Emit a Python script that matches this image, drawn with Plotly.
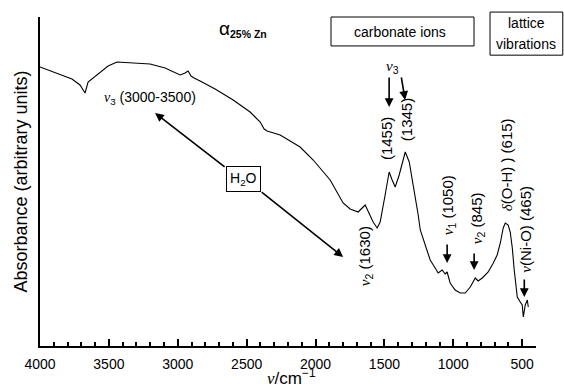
import plotly.graph_objects as go

# IR spectrum (wavenumber in cm-1, absorbance arbitrary units)
wavenumber = [4000, 3884, 3768, 3710, 3673, 3651, 3615, 3564, 3506, 3441, 3346, 3201,
              3092, 2983, 2947, 2925, 2904, 2882, 2838, 2729, 2598, 2475, 2402, 2373,
              2352, 2257, 2112, 2017, 1894, 1800, 1749, 1691, 1640, 1618, 1582, 1553,
              1531, 1495, 1466, 1444, 1422, 1393, 1349, 1320, 1291, 1255, 1240, 1204,
              1168, 1132, 1110, 1081, 1059, 1045, 1023, 987, 950, 914, 877, 841, 820,
              790, 747, 710, 682, 659, 638, 623, 602, 587, 572, 558, 536, 514, 500,
              492, 478, 463, 456]
absorbance = [279, 273, 267, 261, 253, 264, 268, 274, 280, 284, 283, 282,
              278, 271, 273, 275, 270, 268, 265, 257, 246, 234, 224, 217,
              215, 211, 199, 186, 166, 143, 137, 134, 141, 134, 124, 118,
              124, 151, 174, 166, 159, 171, 194, 184, 161, 131, 116, 101,
              86, 78, 73, 76, 72, 74, 63, 56, 53, 53, 59, 68, 65,
              68, 74, 83, 91, 103, 118, 123, 121, 114, 98, 76, 49, 44, 41,
              29, 41, 46, 39]

x_range = [4000, 400]
y_range = [0, 329]
x_tick_step = 500
x_minor_step = 100

FONT = "Liberation Sans, Arial, sans-serif"
NU = "<span style='font-family:Liberation Serif'><i>ν</i></span>"

fig = go.Figure()
fig.add_trace(go.Scatter(x=wavenumber, y=absorbance, mode="lines",
                         line=dict(color="black", width=1.1), showlegend=False,
                         hoverinfo="skip"))

ann = []

def txt(x, y, text, size=14, angle=0, xref="x", yref="y", **kw):
    d = dict(x=x, y=y, text=text, showarrow=False, textangle=angle,
             xanchor="center", yanchor="middle",
             font=dict(family=FONT, size=size, color="black"), xref=xref, yref=yref)
    d.update(kw)
    ann.append(d)

def arrow(x, y, ax, ay, width=1.6):
    ann.append(dict(x=x, y=y, ax=ax, ay=ay, xref="x", yref="y", axref="x", ayref="y",
                    text="", showarrow=True, arrowhead=2, arrowsize=1.1,
                    arrowwidth=width, arrowcolor="black"))

# title-like label
txt(2715, 317, "<span style='font-size:19px'>α</span><sub><b>25% Zn</b></sub>",
    size=15, xanchor="left")

# x-axis title (placed below the tick labels)
txt(0.508, -0.094, NU + "/cm<sup>−1</sup>", size=17, xref="paper", yref="paper")

# box labels
txt(0.7258, 0.953, "carbonate ions", size=14, xref="paper", yref="paper")
txt(0.9805, 0.982, "lattice", size=14, xref="paper", yref="paper")
txt(0.9805, 0.918, "vibrations", size=14, xref="paper", yref="paper")

# nu3 carbonate
txt(1444, 279, NU + "<sub>3</sub>", size=15)
arrow(1466, 239, 1466, 270)
arrow(1350, 246, 1379, 270)
txt(1488, 207, "(1455)", size=15, angle=-90)
txt(1342, 226, "(1345)", size=15, angle=-90)

txt(1640, 90, NU + "<sub>2</sub> (1630)", size=15, angle=-90)
txt(1037, 141, NU + "<sub>1</sub> (1050)", size=15, angle=-90)
arrow(1045, 83, 1045, 103)
txt(827, 128, NU + "<sub>2</sub> (845)", size=15, angle=-90)
arrow(849, 76, 849, 94)
txt(616, 181, "<span style='font-family:Liberation Serif'><i>δ</i></span>(O-H) ) (615)",
    size=15, angle=-90)
txt(482, 117, NU + "(Ni-O) (465)", size=15, angle=-90)
arrow(485, 49, 485, 68)

# water
txt(3201, 248, NU + "<sub>3</sub> (3000-3500)", size=14)
arrow(3165, 233, 2649, 178)
arrow(1800, 89, 2402, 155)
ann.append(dict(x=2526, y=167, xref="x", yref="y", text="H<sub>2</sub>O", showarrow=False,
                font=dict(family=FONT, size=14, color="black"), bordercolor="black",
                borderwidth=1, borderpad=3, bgcolor="white"))

shapes = [
    dict(type="rect", xref="paper", yref="paper", x0=0.5867, x1=0.875, y0=0.912, y1=1.0,
         line=dict(color="black", width=1)),
    dict(type="rect", xref="paper", yref="paper", x0=0.9073, x1=1.054, y0=0.884, y1=1.015,
         line=dict(color="black", width=1)),
]

fig.update_layout(
    width=564, height=388,
    margin=dict(l=40, r=28, t=17, b=42, autoexpand=False),
    paper_bgcolor="white", plot_bgcolor="white",
    font=dict(family=FONT, color="black"),
    annotations=ann, shapes=shapes,
    xaxis=dict(range=x_range, tickmode="linear", tick0=0, dtick=x_tick_step,
               ticks="inside", ticklen=7, tickwidth=2, tickcolor="black",
               minor=dict(tickmode="linear", tick0=0, dtick=x_minor_step, ticks="inside",
                          ticklen=4, tickwidth=1.5, tickcolor="black", showgrid=False),
               ticklabelstandoff=4,
               automargin=False,
               showline=True, linecolor="black", linewidth=2, showgrid=False, zeroline=False,
               tickfont=dict(family=FONT, size=14, color="black")),
    yaxis=dict(range=y_range, showticklabels=False, ticks="", showline=True,
               automargin=False,
               linecolor="black", linewidth=2, showgrid=False, zeroline=False,
               title=dict(text="Absorbance (arbitrary units)", standoff=6,
                          font=dict(family=FONT, size=18, color="black"))),
)

fig.write_html("out.html")
